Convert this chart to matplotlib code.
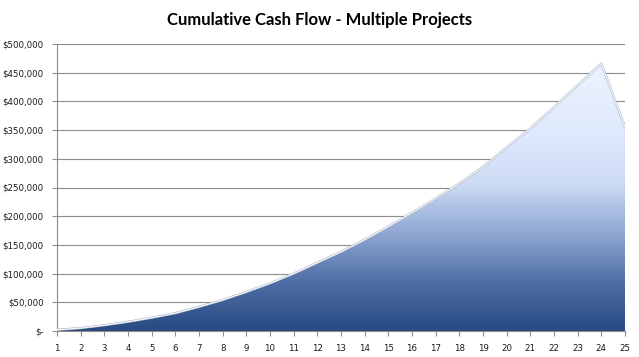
import numpy as np
import matplotlib.pyplot as plt
from matplotlib.colors import LinearSegmentedColormap
from matplotlib.ticker import FuncFormatter

# cumulative cash flow per period
periods = list(range(1, 26))
cash_flow = [2000, 5000, 10000, 16000, 23000, 31000, 42000, 54000, 68000, 83000,
             100000, 119000, 138000, 159000, 182000, 206000, 231000, 257000, 286000, 320000,
             353000, 390000, 428000, 466000, 355000]
y_ticks = list(range(0, 500001, 50000))


def money(v, pos):
    if v == 0:
        return '$-'
    return '${:,.0f}'.format(v)


fig = plt.figure(figsize=(6.39, 3.57), dpi=100)
ax = fig.add_axes([57 / 639, 26 / 357, 568 / 639, 287 / 357])

# gradient fill, clipped to the area under the curve
grad = LinearSegmentedColormap.from_list('cf', [(0.0, '#284a82'), (0.18, '#4d6ea5'),
                                                (0.38, '#94abd5'), (0.55, '#cddbf4'),
                                                (0.72, '#dde8fc'), (1.0, '#edf3ff')])
img = ax.imshow(np.linspace(0, 1, 256).reshape(-1, 1), cmap=grad, aspect='auto',
                extent=[periods[0], periods[-1], 0, max(cash_flow)], origin='lower', zorder=2)
poly = ax.fill_between(periods, cash_flow, 0, facecolor='none', edgecolor='none', zorder=2)
clip = poly.get_paths()[0]
img.set_clip_path(clip, transform=ax.transData)
ax.plot(periods, cash_flow, color='#a4aebd', lw=1.6, zorder=3, solid_joinstyle='round')
ax.plot(periods, cash_flow, color='#f4f7ff', lw=0.9, zorder=3, solid_joinstyle='round')
ax.plot([periods[-1], periods[-1]], [0, cash_flow[-1]], color='#8a96a8', lw=0.8, zorder=3)

ax.set_xlim(periods[0], periods[-1])
ax.set_ylim(0, 500000)
ax.set_xticks(periods)
ax.set_yticks(y_ticks)
ax.yaxis.set_major_formatter(FuncFormatter(money))
ax.grid(axis='y', color='#8c8c8c', lw=0.8, zorder=1)
ax.set_axisbelow(True)

for s in ['top', 'right']:
    ax.spines[s].set_visible(False)
for s in ['left', 'bottom']:
    ax.spines[s].set_color('#8c8c8c')
    ax.spines[s].set_linewidth(0.8)
ax.tick_params(axis='both', colors='#8c8c8c', labelcolor='#1a1a1a', labelsize=6.2, length=3.5, width=0.8)
ax.tick_params(axis='x', pad=6)
ax.tick_params(axis='y', pad=6)

fig.text(0.5, 1 - 20 / 357, 'Cumulative Cash Flow - Multiple Projects', ha='center', va='center',
         fontsize=12, fontweight='bold', family='Lato', color='#000000')

fig.savefig('out.png', dpi=100)
